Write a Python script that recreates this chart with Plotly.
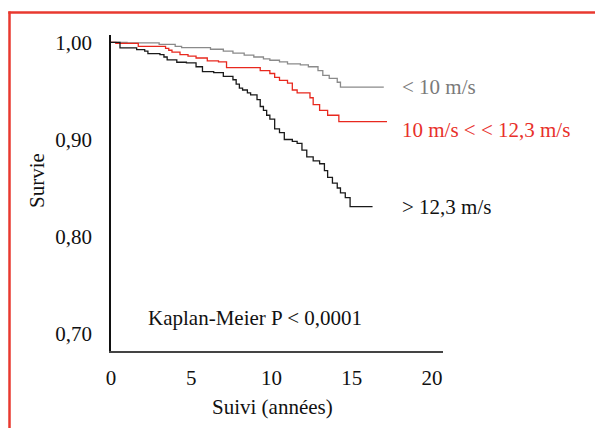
import plotly.graph_objects as go

# ---- data ----
t_low = [0, 1.0, 3.0, 4.0, 4.4, 6.2, 7.0, 7.6, 8.3, 8.9, 9.5, 9.9, 10.5, 11.0, 11.8, 12.3, 12.9, 13.2, 13.6, 14.1, 14.3, 17.0]
s_low = [1.000, 0.9995, 0.998, 0.996, 0.9947, 0.993, 0.991, 0.989, 0.987, 0.985, 0.983, 0.9817, 0.980, 0.978, 0.977, 0.975, 0.971, 0.966, 0.963, 0.959, 0.954, 0.954]

t_mid = [0, 0.3, 1.7, 3.4, 3.6, 3.8, 4.3, 4.8, 5.3, 6.0, 6.7, 7.2, 9.3, 9.9, 10.2, 10.5, 11.0, 11.3, 11.6, 12.4, 12.6, 13.0, 13.5, 14.2, 17.2]
s_mid = [1.000, 0.999, 0.996, 0.994, 0.992, 0.990, 0.9875, 0.986, 0.984, 0.981, 0.980, 0.974, 0.971, 0.968, 0.964, 0.961, 0.958, 0.951, 0.948, 0.943, 0.936, 0.930, 0.925, 0.9185, 0.9185]

t_high = [0, 0.56, 1.6, 2.1, 2.3, 3.05, 3.3, 3.5, 4.1, 4.7, 5.3, 5.7, 6.4, 7.0, 7.6, 7.8, 8.0, 8.2, 8.5, 8.7, 9.1, 9.3, 9.5, 9.7, 9.9, 10.2, 10.5, 10.8, 11.3, 11.6, 11.9, 12.2, 12.6, 13.0, 13.3, 13.5, 13.8, 14.1, 14.3, 14.6, 14.9, 16.3]
s_high = [1.000, 0.9945, 0.9927, 0.991, 0.9886, 0.9875, 0.985, 0.982, 0.9796, 0.979, 0.975, 0.970, 0.969, 0.965, 0.9616, 0.957, 0.953, 0.951, 0.948, 0.946, 0.941, 0.934, 0.930, 0.925, 0.921, 0.911, 0.907, 0.900, 0.898, 0.896, 0.889, 0.882, 0.878, 0.875, 0.868, 0.861, 0.855, 0.850, 0.845, 0.840, 0.8308, 0.8308]

series_names = ["< 10 m/s", "10 m/s < < 12,3 m/s", "> 12,3 m/s"]
x_ticks = [0, 5, 10, 15, 20]
x_ticklabels = ["0", "5", "10", "15", "20"]
y_ticks = [0.70, 0.80, 0.90, 1.00]
y_ticklabels = ["0,70", "0,80", "0,90", "1,00"]
note_text = "Kaplan-Meier P < 0,0001"
x_title = "Suivi (années)"
y_title = "Survie"

# ---- layout geometry (pixels in the window; page body has an 8px margin) ----
OFF = 8
W, H = 603 - OFF, 428 - OFF
L, R, T, B = 111 - OFF, 443 - OFF, 35 - OFF, 351 - OFF
FONT = "Liberation Serif"
FS = 21

def px(xp):
    return (xp - OFF - L) / (R - L)

def py(yp):
    return (B - (yp - OFF)) / (B - T)

colors = ["#8a8a8a", "#e8281e", "#1a1a1a"]
label_colors = ["#7a7a7a", "#e8302a", "#111111"]

fig = go.Figure()
for t, s, c, n in zip([t_low, t_mid, t_high], [s_low, s_mid, s_high], colors, series_names):
    fig.add_trace(go.Scatter(x=t, y=s, mode="lines", line=dict(color=c, width=1.3, shape="hv"),
                             name=n, showlegend=False, hoverinfo="skip"))

# series labels at the end of the curves
end_vals = [s_low[-1], s_mid[-1] - 0.0085, s_high[-1]]
for n, v, c in zip(series_names, end_vals, label_colors):
    fig.add_annotation(x=px(400), xref="paper", y=v, yref="y", text=n, showarrow=False,
                       xanchor="left", yanchor="middle", font=dict(family=FONT, size=FS, color=c))

fig.add_annotation(x=px(146), xref="paper", y=py(318), yref="paper", text=note_text, showarrow=False,
                   xanchor="left", yanchor="middle", font=dict(family=FONT, size=FS, color="#111111"))
fig.add_annotation(x=px(272), xref="paper", y=py(407), yref="paper", text=x_title, showarrow=False,
                   xanchor="center", yanchor="middle", font=dict(family=FONT, size=FS, color="#111111"))
fig.add_annotation(x=px(37), xref="paper", y=py(181), yref="paper", text=y_title, showarrow=False,
                   textangle=-90, xanchor="center", yanchor="middle",
                   font=dict(family=FONT, size=FS, color="#111111"))

# red frame (left and top edges)
red = "#e8392f"
fig.add_shape(type="line", xref="paper", yref="paper", x0=px(9.5), x1=px(9.5), y0=py(11.5), y1=py(440),
              line=dict(color=red, width=2.5))
fig.add_shape(type="line", xref="paper", yref="paper", x0=px(8.3), x1=px(620), y0=py(12.5), y1=py(12.5),
              line=dict(color=red, width=2.5))

fig.update_layout(
    width=W, height=H, autosize=False,
    margin=dict(l=L, r=W - R, t=T, b=H - B),
    paper_bgcolor="white", plot_bgcolor="white",
    font=dict(family=FONT, size=FS, color="#111111"),
    xaxis=dict(range=[0, 20.69], tickvals=x_ticks, ticktext=x_ticklabels, showgrid=False, zeroline=False,
               showline=True, linecolor="#444444", linewidth=1.5, ticks="", ticklabelstandoff=7,
               tickfont=dict(family=FONT, size=FS, color="#111111")),
    yaxis=dict(range=[0.682, 1.0077], tickvals=y_ticks, ticktext=y_ticklabels, showgrid=False, zeroline=False,
               showline=True, linecolor="#111111", linewidth=1.5, ticks="", ticklabelstandoff=13,
               tickfont=dict(family=FONT, size=FS, color="#111111")),
)

fig.write_html("out.html")
